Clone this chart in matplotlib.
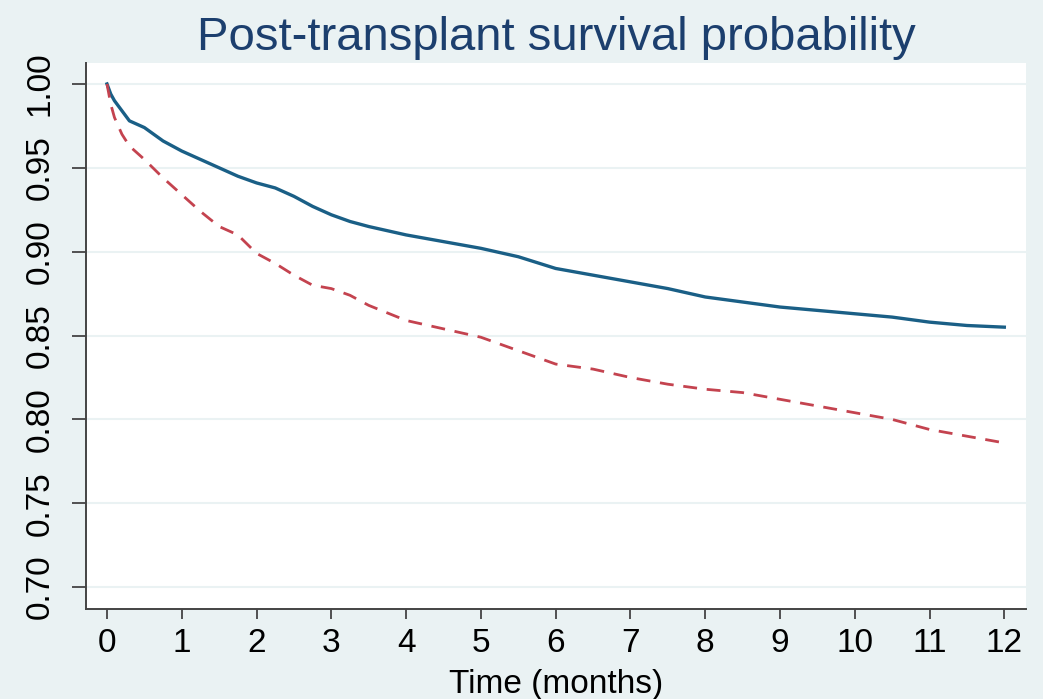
import matplotlib.pyplot as plt
import numpy as np

# survival curves (months, probability)
months_a = [0, 0.05, 0.1, 0.2, 0.3, 0.5, 0.75, 1.0, 1.25, 1.5, 1.75, 2.0, 2.25, 2.5, 2.75,
            3.0, 3.25, 3.5, 4.0, 4.5, 5.0, 5.5, 6.0, 6.5, 7.0, 7.5, 8.0, 8.5, 9.0, 9.5,
            10.0, 10.5, 11.0, 11.5, 12.0]
surv_a = [1.0, 0.994, 0.990, 0.984, 0.978, 0.974, 0.966, 0.960, 0.955, 0.950, 0.945, 0.941,
          0.938, 0.933, 0.927, 0.922, 0.918, 0.915, 0.910, 0.906, 0.902, 0.897, 0.890, 0.886,
          0.882, 0.878, 0.873, 0.870, 0.867, 0.865, 0.863, 0.861, 0.858, 0.856, 0.855]

months_b = [0, 0.05, 0.1, 0.2, 0.3, 0.5, 0.75, 1.0, 1.25, 1.5, 1.75, 2.0, 2.25, 2.5, 2.75,
            3.0, 3.25, 3.5, 4.0, 4.5, 5.0, 5.5, 6.0, 6.5, 7.0, 7.5, 8.0, 8.5, 9.0, 9.5,
            10.0, 10.5, 11.0, 11.5, 12.0]
surv_b = [1.0, 0.988, 0.980, 0.970, 0.963, 0.955, 0.944, 0.934, 0.924, 0.915, 0.910, 0.899,
          0.893, 0.886, 0.880, 0.878, 0.874, 0.868, 0.859, 0.854, 0.849, 0.841, 0.833, 0.830,
          0.825, 0.821, 0.818, 0.816, 0.812, 0.808, 0.804, 0.800, 0.794, 0.790, 0.786]

x_ticks = list(range(0, 13))
y_ticks = [0.70, 0.75, 0.80, 0.85, 0.90, 0.95, 1.00]

bg = '#eaf2f3'
plt.rcParams['font.family'] = ['Liberation Sans', 'DejaVu Sans']

fig = plt.figure(figsize=(10.43, 6.99), dpi=100, facecolor=bg)
ax = fig.add_axes([0.0825, 0.1288, 0.9012, 0.7811])
ax.set_facecolor('white')

ax.plot(months_a, surv_a, color='#1a5f86', lw=2.4)
ax.plot(months_b, surv_b, color='#c4434f', lw=2.0, linestyle=(0, (5, 3.5)))

ax.set_xlim(-0.28, 12.29)
ax.set_ylim(0.687, 1.0125)
ax.set_xticks(x_ticks)
ax.set_yticks(y_ticks)
ax.set_yticklabels(['%.2f' % v for v in y_ticks], rotation=90, va='center')
ax.grid(axis='y', color=bg, lw=1.5)
ax.set_axisbelow(True)

for s in ['top', 'right']:
    ax.spines[s].set_visible(False)
for s in ['left', 'bottom']:
    ax.spines[s].set_color('#444444')
    ax.spines[s].set_linewidth(1.4)

ax.tick_params(axis='y', length=10, width=1.3, color='#444444', labelsize=24, pad=12)
ax.tick_params(axis='x', length=7, width=1.3, color='#444444', labelsize=24, pad=7)

ax.set_xlabel('Time (months)', fontsize=24, labelpad=7)
ax.set_title('Post-transplant survival probability', fontsize=34, color='#1c3f6e', pad=9)

fig.savefig('out.png', dpi=100, facecolor=bg)
